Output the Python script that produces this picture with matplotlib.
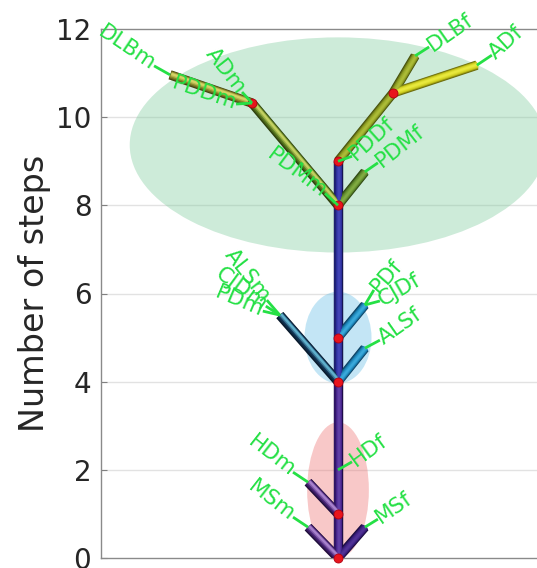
import numpy as np
import matplotlib.pyplot as plt
import matplotlib.patheffects as pe
from matplotlib.patches import Ellipse
from matplotlib.colors import to_rgb

# branches of the tree: start point, end point (x, steps)
branch_x0 = [0, 0, 0, 0, 0, 0, 0, 0, 0, -1.95, 0, 0, 1.25, 1.25]
branch_y0 = [0, 4, 0, 0, 1, 4, 4, 5, 8, 10.32, 8, 9, 10.55, 10.55]
branch_x1 = [0, 0, -0.68, 0.61, -0.68, -1.32, 0.61, 0.61, -1.95, -3.81, 0.61, 1.25, 1.75, 3.15]
branch_y1 = [4, 9, 0.70, 0.70, 1.72, 5.51, 4.76, 5.74, 10.32, 10.96, 8.76, 10.55, 11.39, 11.18]
branch_col = ['trunk_lo', 'trunk_hi', 'purple', 'purple2', 'purple', 'navy', 'teal', 'teal',
              'green', 'olive', 'green2', 'olive2', 'olive2', 'yellow']

# nodes (red markers)
node_x = [0, 0, 0, 0, 0, 0, -1.95, 1.25]
node_y = [0, 1, 4, 5, 8, 9, 10.32, 10.55]

# labels: name, point it refers to, leader offset (px), text angle
lab_names = ['DLBm', 'PDDm', 'ADm', 'PDMm', 'PDDf', 'PDMf', 'DLBf', 'ADf',
             'ALSm', 'CJDm', 'PDm', 'PDf', 'CJDf', 'ALSf',
             'HDm', 'MSm', 'HDf', 'MSf']
lab_x = [-3.81, -1.95, -1.95, 0, 0, 0.61, 1.75, 3.15,
         -1.32, -1.32, -1.32, 0.61, 0.61, 0.61,
         -0.68, -0.68, 0, 0.61]
lab_y = [10.96, 10.32, 10.32, 8, 9, 8.76, 11.39, 11.18,
         5.51, 5.51, 5.51, 5.74, 5.74, 4.76,
         1.72, 0.70, 2, 0.70]
lab_dx = [-16, -16, -10, -13, 14, 13, 14, 15, -13, -14, -17, 9, 15, 15, -15, -15, 14, 13]
lab_dy = [9, -1, 11, 12, 5, 9, 9, 10, 15, 9, 4, 15, 4, 8, 10, 10, 8, 8]
lab_rot = [-34, -19, -52, -37, 42, 38, 35, 42, -52, -36, -23, 49, 30, 35, -38, -38, 36, 35]

yticks = [0, 2, 4, 6, 8, 10, 12]

tube_colors = {
    'trunk_lo': ('#45228a', '#1c0c45', '#6a4ab0'),
    'trunk_hi': ('#2c2e9a', '#14154f', '#4a4cc0'),
    'purple': ('#4a2578', '#1e0c3a', '#cfa8f0'),
    'purple2': ('#3b1f7e', '#180b3c', '#5a3aa0'),
    'navy': ('#123556', '#08182a', '#80e4ff'),
    'teal': ('#1c84b8', '#0c3f60', '#45b8e8'),
    'green': ('#5d7d22', '#2c3d0c', '#eef47a'),
    'green2': ('#5f8a2c', '#2d4512', '#8cb84a'),
    'olive': ('#8c8a2c', '#454310', '#f4f27e'),
    'olive2': ('#8c9c22', '#46500c', '#b8c840'),
    'yellow': ('#cccc1e', '#6a6a0a', '#f4f44a'),
}

GREEN = '#25e045'
PX = 44.08  # pixels per data unit

fig = plt.figure(figsize=(5.37, 5.68), dpi=100)
ax = fig.add_axes([101 / 537, 10 / 568, (560 - 101) / 537, 529 / 568])
ax.set_xlim(-237 / PX, (560 - 338) / PX)
ax.set_ylim(0, 12)

# grid and shaded groups
for t in yticks[1:-1]:
    ax.axhline(t, color='#e2e2e2', lw=1, zorder=0)
ax.add_patch(Ellipse((0, 9.37), 9.45, 4.88, color=(130/255, 205/255, 160/255), alpha=0.4, lw=0, zorder=1))
ax.add_patch(Ellipse((0, 5.0), 1.52, 2.08, color=(105/255, 192/255, 230/255), alpha=0.4, lw=0, zorder=1))
ax.add_patch(Ellipse((0, 1.54), 1.40, 3.08, color=(238/255, 118/255, 118/255), alpha=0.4, lw=0, zorder=1))

# tubes: stacked strokes, dark edge -> base -> light core, for a rounded look
widths = [6.8, 5.6, 4.4, 3.0, 1.6]
for x0, y0, x1, y1, c in zip(branch_x0, branch_y0, branch_x1, branch_y1, branch_col):
    base, dark, light = [np.array(to_rgb(k)) for k in tube_colors[c]]
    shades = [dark, 0.5 * dark + 0.5 * base, base, 0.6 * base + 0.4 * light, 0.3 * base + 0.7 * light]
    for i, (w, col) in enumerate(zip(widths, shades)):
        off = 0.25 * i
        ax.plot([x0, x1], [y0, y1], color=col, lw=w, solid_capstyle='butt', zorder=3 + 0.1 * i,
                path_effects=[pe.Stroke(offset=(off, off * 0.6))])

ax.plot(node_x, node_y, 'o', color='#e8141c', ms=6.5, mec='#b00010', mew=0.6, zorder=6, clip_on=False)

# labels with leaders
for name, x, y, dx, dy, rot in zip(lab_names, lab_x, lab_y, lab_dx, lab_dy, lab_rot):
    ex, ey = x + dx / PX, y + dy / PX
    ax.plot([x, ex], [y, ey], color=GREEN, lw=2, zorder=7, solid_capstyle='butt', clip_on=False)
    ha = 'right' if dx < 0 else 'left'
    ax.text(ex, ey, name, color=GREEN, fontsize=15.5, rotation=rot, rotation_mode='anchor',
            ha=ha, va='center', zorder=8, clip_on=False)

ax.set_yticks(yticks)
ax.set_xticks([])
ax.tick_params(axis='y', direction='in', length=4, labelsize=20, labelcolor='#262626',
               color='#808080', pad=7)
for s in ['left', 'bottom', 'top', 'right']:
    ax.spines[s].set_color('#8a8a8a')
    ax.spines[s].set_linewidth(1)
ax.set_ylabel('Number of steps', fontsize=24, color='#262626')
ax.yaxis.set_label_coords(-0.11, 0.5)

fig.savefig('out.png', dpi=100)
